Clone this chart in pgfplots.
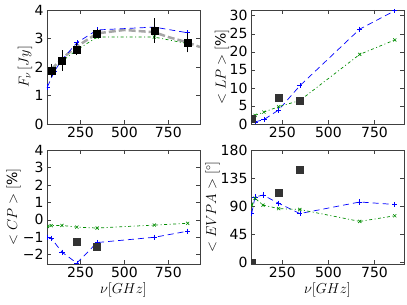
\documentclass[border=0pt]{standalone}
\usepackage{fontspec}
\setmainfont{DejaVu Sans}
\usepackage{pgfplots}
\pgfplotsset{compat=1.18}
\pgfplotsset{
 panel/.style={
   width=153pt, height=114pt, scale only axis,
   anchor=south west,
   axis line style={black!75, line width=0.8pt},
   tick style={black!75, line width=0.6pt},
   tick align=inside,
   major tick length=4pt,
   xtick={250,500,750},
   clip marker paths=true,
   /pgf/number format/assume math mode=true,
   ticklabel style={font=\fontsize{14}{16}\selectfont},
   label style={font=\fontsize{14}{16}\selectfont},
 },
 bl/.style={blue, dash pattern=on 6pt off 4pt, line width=0.7pt, mark=+, mark size=2.6pt, mark options={solid, line width=0.6pt}},
 gl/.style={green!55!black, dash pattern=on 3pt off 2.5pt on 1pt off 2.5pt, line width=0.7pt, mark=x, mark size=2.2pt, mark options={solid, line width=0.6pt}},
 dat/.style={only marks, mark=square*, mark size=3.5pt, draw=black!80, fill=black!80, mark options={solid}},
}
\begin{document}
\begin{tikzpicture}
\useasboundingbox (0,0) rectangle (407pt,305pt);
% ---------- top left: flux ----------
\begin{axis}[panel, at={(47pt,181pt)},
  xmin=60, xmax=930, ymin=0, ymax=4, ytick={0,1,2,3,4},
  ylabel={$F_{\nu}\,[Jy]$},
  y label style={at={(axis description cs:-0.144,0.5)}, anchor=center}]
\addplot[gray!70, line width=2.5pt, dash pattern=on 7pt off 3pt] coordinates {
 (86,1.92) (145,2.3) (230,2.72) (345,3.18) (500,3.3) (670,3.22) (750,3.05) (860,2.86) (930,2.7)};
\addplot[bl] coordinates {
 (62,1.3) (102,1.85) (145,2.25) (230,2.85) (345,3.3) (670,3.4) (860,3.2)};
\addplot[gl] coordinates {
 (84,1.85) (102,1.95) (145,2.2) (230,2.6) (345,3.05) (670,3.05) (860,2.82)};
\addplot[only marks, mark=square*, mark size=3.5pt, black,
  error bars/.cd, y dir=both, y explicit,
  error bar style={black, line width=0.8pt},
  error mark options={black, mark size=2.5pt, line width=0.8pt}]
 coordinates {
 (86,1.87) +- (0,0.15)
 (145,2.23) +- (0,0.27)
 (230,2.62) +- (0,0.12)
 (345,3.17) +- (0,0.08)
 (670,3.28) +- (0,0.35)
 (860,2.85) +- (0,0.25)};
\end{axis}
% ---------- top right: LP ----------
\begin{axis}[panel, at={(251pt,181pt)},
  xmin=80, xmax=910, ymin=0, ymax=31.6, ytick={0,5,10,15,20,25,30},
  ylabel={$<LP>[\%]$},
  y label style={at={(axis description cs:-0.19,0.5)}, anchor=center}]
\addplot[bl] coordinates {
 (102,0.6) (150,1.2) (230,3.9) (345,10.6) (670,26.3) (860,31.4)};
\addplot[gl] coordinates {
 (102,2.4) (150,3.3) (230,4.8) (345,6.5) (670,19.3) (860,23.3)};
\addplot[dat] coordinates {(86,1.4) (230,7.4) (345,6.45)};
\end{axis}
% ---------- bottom left: CP ----------
\begin{axis}[panel, at={(47pt,41pt)},
  xmin=60, xmax=930, ymin=-2.53, ymax=4, ytick={-2,-1,0,1,2,3,4},
  yticklabels={−2,−1,0,1,2,3,4},
  ylabel={$<CP>[\%]$},
  y label style={at={(axis description cs:-0.219,0.5)}, anchor=center},
  xlabel={$\nu[GHz]$},
  x label style={at={(axis description cs:0.5,-0.228)}, anchor=center}]
\addplot[bl] coordinates {
 (62,-1.0) (84,-1.05) (145,-1.85) (230,-2.48) (345,-1.3) (670,-1.0) (860,-0.65)};
\addplot[gl] coordinates {
 (62,-0.38) (84,-0.33) (145,-0.32) (230,-0.42) (345,-0.47) (670,-0.3) (860,-0.2)};
\addplot[dat] coordinates {(230,-1.28) (345,-1.55)};
\end{axis}
% ---------- bottom right: EVPA ----------
\begin{axis}[panel, at={(251pt,41pt)},
  xmin=80, xmax=910, ymin=-2, ymax=180, ytick={0,45,90,135,180},
  ylabel={$<EVPA>[^\circ]$},
  y label style={at={(axis description cs:-0.252,0.5)}, anchor=center},
  xlabel={$\nu[GHz]$},
  x label style={at={(axis description cs:0.5,-0.228)}, anchor=center}]
\addplot[bl] coordinates {
 (84,79) (102,105) (145,108) (230,95) (345,78.5) (670,97) (860,93)};
\addplot[gl] coordinates {
 (84,92) (102,103) (145,92) (230,86.5) (345,85) (670,66) (860,75)};
\addplot[dat] coordinates {(86,0) (230,112) (345,148)};
\end{axis}
\end{tikzpicture}
\end{document}
